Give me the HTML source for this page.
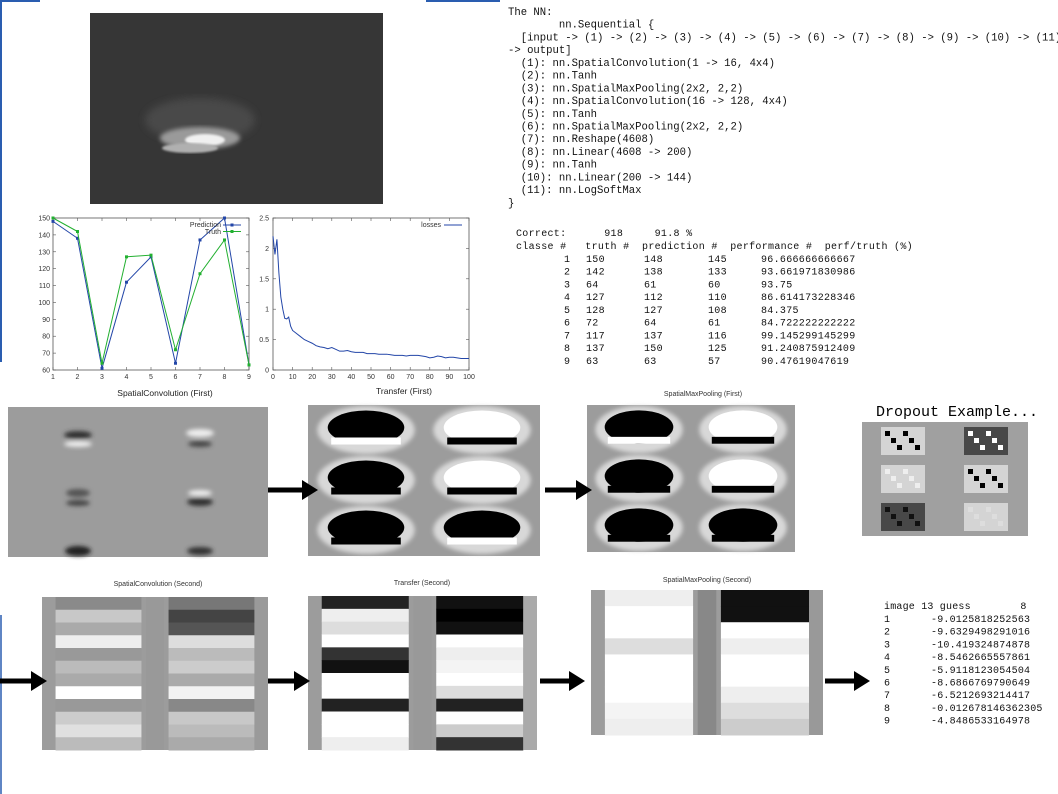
<!DOCTYPE html>
<html><head><meta charset="utf-8"><style>
html,body{margin:0;padding:0;background:#fff;width:1058px;height:794px;overflow:hidden}
svg{display:block}
.mono{font-family:"Liberation Mono",monospace;font-size:10.6px;fill:#111;white-space:pre}
.sm{font-family:"Liberation Sans",sans-serif;font-size:7px;fill:#333}
.ttl{font-family:"Liberation Sans",sans-serif;font-size:8px;fill:#222}
</style></head><body>
<svg id="root" width="1058" height="794" xmlns="http://www.w3.org/2000/svg">
<defs>
<filter id="blur2"><feGaussianBlur stdDeviation="2"/></filter>
<filter id="blur4"><feGaussianBlur stdDeviation="4"/></filter>
<filter id="blur1"><feGaussianBlur stdDeviation="1"/></filter>
</defs>
<line x1="1" y1="0" x2="1" y2="362" stroke="#2a5db0" stroke-width="2"/>
<line x1="0" y1="1" x2="40" y2="1" stroke="#2a5db0" stroke-width="2"/>
<line x1="426" y1="1" x2="500" y2="1" stroke="#2a5db0" stroke-width="2"/>
<line x1="1" y1="615" x2="1" y2="794" stroke="#2a5db0" stroke-width="1.5"/>

<g>
<rect x="90" y="13" width="293" height="191" fill="#363636"/>
<ellipse cx="200" cy="120" rx="55" ry="22" fill="#4a4a4a" filter="url(#blur4)"/>
<ellipse cx="200" cy="138" rx="40" ry="11" fill="#9a9a9a" filter="url(#blur2)"/>
<ellipse cx="205" cy="140" rx="20" ry="6" fill="#f0f0f0" filter="url(#blur1)"/>
<ellipse cx="190" cy="148" rx="28" ry="5" fill="#b0b0b0" filter="url(#blur1)"/>
</g>

<g id="chart1"></g>
<g id="chart2"></g>
<text x="165" y="396" text-anchor="middle" class="ttl" style="font-size:8.5px">SpatialConvolution (First)</text>
<text x="404" y="394" text-anchor="middle" class="ttl" style="font-size:8.5px">Transfer (First)</text>

<g id="nn"></g>
<g id="tbl"></g>
<g id="guess"></g>

<g>
<rect x="8" y="407" width="260" height="150" fill="#9c9c9c"/>
<g filter="url(#blur2)">
<ellipse cx="78" cy="435" rx="14" ry="4" fill="#333"/><ellipse cx="78" cy="444" rx="14" ry="3" fill="#eee"/>
<ellipse cx="200" cy="433" rx="14" ry="4" fill="#eee"/><ellipse cx="200" cy="444" rx="12" ry="3" fill="#444"/>
<ellipse cx="78" cy="493" rx="12" ry="4" fill="#555"/><ellipse cx="78" cy="503" rx="12" ry="3" fill="#444"/>
<ellipse cx="200" cy="493" rx="12" ry="3" fill="#eee"/><ellipse cx="200" cy="502" rx="13" ry="4" fill="#333"/>
<ellipse cx="78" cy="551" rx="13" ry="5" fill="#222"/><ellipse cx="200" cy="551" rx="13" ry="4" fill="#333"/>
</g></g>
<g>
<rect x="308" y="405" width="232" height="151" fill="#9c9c9c"/>
<g id="t1cells"></g></g>
<text x="703" y="396" text-anchor="middle" class="sm">SpatialMaxPooling (First)</text>
<g>
<rect x="587" y="405" width="208" height="147" fill="#9c9c9c"/>
<g id="p1cells"></g></g>
<text x="957" y="416" text-anchor="middle" style="font-family:'Liberation Mono',monospace;font-size:15px" fill="#000">Dropout Example...</text>
<g>
<rect x="862" y="422" width="166" height="114" fill="#a0a0a0"/>
<g id="dcells"></g></g>

<text x="158" y="586" text-anchor="middle" class="sm">SpatialConvolution (Second)</text>
<g><rect x="42" y="597" width="226" height="153" fill="#9c9c9c"/><g id="c2"></g></g>
<text x="422" y="585" text-anchor="middle" class="sm">Transfer (Second)</text>
<g><rect x="308" y="596" width="229" height="154" fill="#9c9c9c"/><g id="t2"></g></g>
<text x="707" y="582" text-anchor="middle" class="sm">SpatialMaxPooling (Second)</text>
<g><rect x="591" y="590" width="232" height="145" fill="#9c9c9c"/><g id="p2"></g></g>

<g id="arrows"></g>
</svg>
<script>
const NS='http://www.w3.org/2000/svg';
function el(tag,attrs,parent,txt){const e=document.createElementNS(NS,tag);for(const k in attrs)e.setAttribute(k,attrs[k]);if(txt!==undefined)e.textContent=txt;parent.appendChild(e);return e;}
const $=id=>document.getElementById(id);

const classes=[1,2,3,4,5,6,7,8,9];
const prediction=[148,138,61,112,127,64,137,150,63];
const truth=[150,142,64,127,128,72,117,137,63];
const yTicks1=[60,70,80,90,100,110,120,130,140,150];
const lossX=[0,1,2,3,4,5,6,7,8,9,10,12,14,16,18,20,22,24,26,28,30,32,34,36,38,40,42,44,46,48,50,52,54,56,58,60,62,64,66,68,70,72,74,76,78,80,82,84,86,88,90,92,94,96,98,100];
const losses=[2.2,1.9,2.15,1.6,1.2,1.0,0.85,0.84,0.87,0.72,0.65,0.6,0.55,0.5,0.47,0.44,0.4,0.38,0.37,0.35,0.37,0.34,0.31,0.31,0.32,0.3,0.29,0.29,0.29,0.27,0.27,0.27,0.26,0.26,0.26,0.25,0.24,0.24,0.24,0.23,0.24,0.24,0.24,0.23,0.22,0.2,0.21,0.23,0.22,0.2,0.21,0.21,0.2,0.19,0.19,0.19];
const yTicks2=[0,0.5,1,1.5,2,2.5];
const xTicks2=[0,10,20,30,40,50,60,70,80,90,100];

function frame(g,L,T,R,B){
  const f=el('rect',{x:L,y:T,width:R-L,height:B-T,fill:'none',stroke:'#555','stroke-width':0.8},g);
  
  
}
(function(){
  const g=$('chart1');const L=53,R=249,T=218,B=370;
  const sx=v=>L+(v-1)/8*(R-L), sy=v=>B-(v-60)/90*(B-T);
  frame(g,L,T,R,B);
  yTicks1.forEach(v=>{const t=el('text',{x:L-3,y:sy(v)+2.5,'text-anchor':'end',class:'sm'},g,v);
    
    
    el('line',{x1:L,x2:L+3,y1:sy(v),y2:sy(v),stroke:'#555','stroke-width':0.6},g);el('line',{x1:R,x2:R-3,y1:sy(v),y2:sy(v),stroke:'#555','stroke-width':0.6},g);});
  classes.forEach(v=>{const t=el('text',{x:sx(v),y:B+9,'text-anchor':'middle',class:'sm'},g,v);
    
    
    el('line',{x1:sx(v),x2:sx(v),y1:B,y2:B-3,stroke:'#555','stroke-width':0.6},g);el('line',{x1:sx(v),x2:sx(v),y1:T,y2:T+3,stroke:'#555','stroke-width':0.6},g);});
  [[prediction,'#2346a8','prediction'],[truth,'#22b030','truth']].forEach(([d,c,n])=>{
    const p=el('polyline',{points:d.map((v,i)=>sx(classes[i])+','+sy(v)).join(' '),fill:'none',stroke:c,'stroke-width':1},g);
    
    
    d.forEach((v,i)=>{const m=el('rect',{x:sx(classes[i])-1.5,y:sy(v)-1.5,width:3,height:3,fill:c},g);
      
      });
  });
  const l1=el('text',{x:221,y:227,'text-anchor':'end',class:'sm'},g,'Prediction');
  
  
  el('line',{x1:223,x2:241,y1:225,y2:225,stroke:'#2346a8'},g);el('rect',{x:230.5,y:223.5,width:3,height:3,fill:'#2346a8'},g);
  const l2=el('text',{x:221,y:234,'text-anchor':'end',class:'sm'},g,'Truth');
  
  
  el('line',{x1:223,x2:241,y1:231.5,y2:231.5,stroke:'#22b030'},g);el('rect',{x:230.5,y:230,width:3,height:3,fill:'#22b030'},g);
})();
(function(){
  const g=$('chart2');const L=273,R=469,T=218,B=370;
  const sx=v=>L+v/100*(R-L), sy=v=>B-v/2.5*(B-T);
  frame(g,L,T,R,B);
  yTicks2.forEach(v=>{const t=el('text',{x:L-4,y:sy(v)+2.5,'text-anchor':'end',class:'sm'},g,v);
    
    
    el('line',{x1:L,x2:L+3,y1:sy(v),y2:sy(v),stroke:'#555','stroke-width':0.6},g);el('line',{x1:R,x2:R-3,y1:sy(v),y2:sy(v),stroke:'#555','stroke-width':0.6},g);});
  xTicks2.forEach(v=>{const t=el('text',{x:sx(v),y:B+9,'text-anchor':'middle',class:'sm'},g,v);
    
    
    el('line',{x1:sx(v),x2:sx(v),y1:B,y2:B-3,stroke:'#555','stroke-width':0.6},g);el('line',{x1:sx(v),x2:sx(v),y1:T,y2:T+3,stroke:'#555','stroke-width':0.6},g);});
  const p=el('polyline',{points:losses.map((v,i)=>sx(lossX[i])+','+sy(v)).join(' '),fill:'none',stroke:'#2346a8','stroke-width':1},g);
  
  
  const l=el('text',{x:441,y:227,'text-anchor':'end',class:'sm'},g,'losses');
  
  
  el('line',{x1:444,x2:462,y1:225,y2:225,stroke:'#2346a8'},g);
})();

const nnLines=["The NN:","        nn.Sequential {","  [input -> (1) -> (2) -> (3) -> (4) -> (5) -> (6) -> (7) -> (8) -> (9) -> (10) -> (11)","-> output]","  (1): nn.SpatialConvolution(1 -> 16, 4x4)","  (2): nn.Tanh","  (3): nn.SpatialMaxPooling(2x2, 2,2)","  (4): nn.SpatialConvolution(16 -> 128, 4x4)","  (5): nn.Tanh","  (6): nn.SpatialMaxPooling(2x2, 2,2)","  (7): nn.Reshape(4608)","  (8): nn.Linear(4608 -> 200)","  (9): nn.Tanh","  (10): nn.Linear(200 -> 144)","  (11): nn.LogSoftMax","}"];
nnLines.forEach((s,i)=>{const t=el('text',{x:508,y:15+i*12.72,class:'mono'},$('nn'),s);
  
  });

const tRows=[["1","150","148","145","96.666666666667"],["2","142","138","133","93.661971830986"],["3","64","61","60","93.75"],["4","127","112","110","86.614173228346"],["5","128","127","108","84.375"],["6","72","64","61","84.722222222222"],["7","117","137","116","99.145299145299"],["8","137","150","125","91.240875912409"],["9","63","63","57","90.47619047619"]];
const tg=$('tbl');
function tt(x,y,s,n){const t=el('text',{x:x,y:y,class:'mono',style:'font-size:10px;letter-spacing:0.3px'},tg,s);}
tt(516,236,"Correct:      918     91.8 %",'correct-summary');
tt(516,249,"classe #   truth #  prediction #  performance #  perf/truth (%)",'table-header');
tRows.forEach((r,i)=>{const y=262+i*12.72;tt(564,y,r[0],'row-class');tt(586,y,r[1],'row-truth');tt(644,y,r[2],'row-prediction');tt(708,y,r[3],'row-performance');tt(761,y,r[4],'row-ratio');});

const guessVals=["-9.0125818252563","-9.6329498291016","-10.419324874878","-8.5462665557861","-5.9118123054504","-8.6866769790649","-6.5212693214417","-0.012678146362305","-4.8486533164978"];
const gg=$('guess');
function gt(x,y,s){const t=el('text',{x:x,y:y,class:'mono',style:'font-size:10px;letter-spacing:0.2px'},gg,s);}
gt(884,609,"image 13 guess        8");
guessVals.forEach((v,i)=>{gt(884,622+i*12.7,String(i+1));gt(931,622+i*12.7,v);});

function blobs(id,x0,y0,cw,ch,specs){const g=$(id);
  specs.forEach((s,i)=>{const cx=x0+(i%2)*cw+cw/2, cy=y0+Math.floor(i/2)*ch+ch/2;
    el('ellipse',{cx:cx,cy:cy,rx:cw*0.42,ry:ch*0.48,fill:'#d8d8d8',filter:'url(#blur2)'},g);
    el('ellipse',{cx:cx,cy:cy-ch*0.05,rx:cw*0.33,ry:ch*0.34,fill:s[0]},g);
    el('rect',{x:cx-cw*0.3,y:cy+ch*(s[2]||0.15),width:cw*0.6,height:ch*0.14,fill:s[1]},g);
  });}
blobs('t1cells',308,405,116,50,[['#000','#fff'],['#fff','#000'],['#000','#000'],['#fff','#000'],['#000','#000'],['#000','#fff']]);
blobs('p1cells',587,405,104,49,[['#000','#fff'],['#fff','#000'],['#000','#000'],['#fff','#000'],['#000','#000',0.0],['#000','#000']]);
(function(){const g=$('dcells');const pats=[['#fff','#000'],['#000','#fff'],['#fff','#eee'],['#fff','#000'],['#000','#111'],['#fff','#ddd']];
  pats.forEach((p,i)=>{const cx=862+(i%2)*83+41, cy=422+Math.floor(i/2)*38+19;
    el('rect',{x:cx-22,y:cy-14,width:44,height:28,fill:p[0],opacity:0.55},g);
    for(let k=0;k<6;k++)el('rect',{x:cx-18+k*6,y:cy-10+(k%3)*7,width:5,height:5,fill:p[1]},g);});})();
function stripes(id,x0,y0,w,h,rows,colA,colB){const g=$(id);const rh=h/rows.length;
  rows.forEach((r,i)=>{el('rect',{x:x0+w*0.06,y:y0+i*rh,width:w*0.38,height:rh+0.5,fill:r[0]},g);
    el('rect',{x:x0+w*0.56,y:y0+i*rh,width:w*0.38,height:rh+0.5,fill:r[1]},g);});
  el('rect',{x:x0+w*0.46,y:y0,width:w*0.08,height:h,fill:colA},g);el('rect',{x:x0+w*0.94,y:y0,width:w*0.06,height:h,fill:colB},g);}
stripes('c2',42,597,226,153,[['#8a8a8a','#777'],['#c8c8c8','#444'],['#aaa','#555'],['#eee','#ddd'],['#999','#bbb'],['#bbb','#ccc'],['#aaa','#aaa'],['#fff','#f2f2f2'],['#999','#888'],['#ccc','#c8c8c8'],['#e0e0e0','#bbb'],['#bbb','#aaa']],'#999','#9a9a9a');
stripes('t2',308,596,229,154,[['#222','#111'],['#eee','#000'],['#ddd','#111'],['#fff','#fff'],['#333','#eee'],['#111','#f4f4f4'],['#fff','#fff'],['#fff','#ddd'],['#222','#222'],['#fff','#fff'],['#fff','#ccc'],['#eee','#333']],'#999','#aaa');
stripes('p2',591,590,232,145,[['#eee','#111'],['#fff','#111'],['#fff','#fff'],['#ddd','#eee'],['#fff','#fff'],['#fff','#fff'],['#fff','#eee'],['#f4f4f4','#ddd'],['#eee','#ccc']],'#888','#999');

const arrowPos=[[268,490,318],[545,490,592],[0,681,47],[268,681,310],[540,681,585],[825,681,870]];
arrowPos.forEach(a=>{const g=$('arrows');const p=el('path',{d:`M${a[0]} ${a[1]-2.5}H${a[2]-16}V${a[1]-10}L${a[2]} ${a[1]}L${a[2]-16} ${a[1]+10}V${a[1]+2.5}H${a[0]}Z`,fill:'#000'},g);
  
  });
</script>
</body></html>
